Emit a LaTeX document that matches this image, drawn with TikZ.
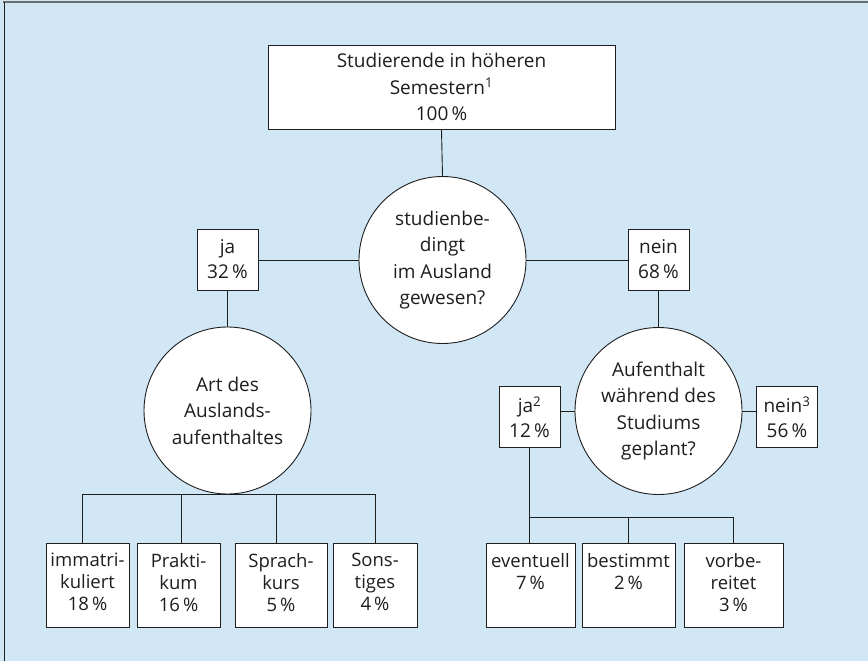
\documentclass[tikz,border=0pt]{standalone}
\usepackage{fontspec}
\setmainfont{Open Sans}
\definecolor{bgblue}{HTML}{D2E7F5}
\definecolor{ink}{HTML}{1E1E1E}
\definecolor{frame}{HTML}{6E6E6E}
\begin{document}
\begin{tikzpicture}[x=1pt,y=-1pt,
  every node/.style={text=ink},
  base/.style={draw=ink, line width=0.9pt, fill=white, align=center, inner sep=2pt,
    font=\fontsize{19}{26.5}\selectfont},
  topbox/.style={base, minimum width=347, minimum height=84},
  smallbox/.style={base, minimum width=61, minimum height=61, font=\fontsize{19}{25}\selectfont},
  question/.style={base, circle, minimum size=167, inner sep=0pt},
  leaf/.style={base, minimum height=84, minimum width=#1, inner sep=0pt,
    font=\fontsize{18.5}{22}\selectfont},
  conn/.style={draw=ink, line width=0.9pt}
]
\useasboundingbox (0,0) rectangle (868,661);
\fill[bgblue] (0,0) rectangle (868,661);
\draw[frame, line width=2pt] (3,2) -- (868,2);
\draw[ink, line width=0.9pt] (4,2) -- (4,661);

% nodes
\node[topbox] (top) at (441.5,87) {Studierende in höheren\\Semestern\textsuperscript{1}\\100\,\%};
\node[question] (c1) at (442.5,260) {studienbe-\\dingt\\im Ausland\\gewesen?};
\node[smallbox] (ja1) at (227.5,259.5) {ja\\32\,\%};
\node[smallbox] (nein1) at (658.5,259.5) {nein\\68\,\%};
\node[question] (c2) at (227.5,410.5) {Art des\\Auslands-\\aufenthaltes};
\node[question] (c3) at (658.5,411) {Aufenthalt\\während des\\Studiums\\geplant?};
\node[smallbox] (ja2) at (529.5,417) {ja\textsuperscript{2}\\12\,\%};
\node[smallbox] (nein3) at (787,417) {nein\textsuperscript{3}\\56\,\%};

\node[leaf=83] (imm) at (87.5,585) {\parbox[c][76pt][t]{82pt}{\vspace*{6pt}\centering immatri-\\kuliert\\18\,\%}};
\node[leaf=83] (prak) at (178.5,585) {\parbox[c][76pt][t]{82pt}{\vspace*{6pt}\centering Prakti-\\kum\\16\,\%}};
\node[leaf=92] (spr) at (281,585) {\parbox[c][76pt][t]{90pt}{\vspace*{6pt}\centering Sprach-\\kurs\\5\,\%}};
\node[leaf=84] (sons) at (375,585) {\parbox[c][76pt][t]{82pt}{\vspace*{6pt}\centering Sons-\\tiges\\4\,\%}};

\node[leaf=89] (event) at (530.5,585) {\parbox[c][76pt][t]{88pt}{\vspace*{6pt}\centering eventuell\\7\,\%}};
\node[leaf=93] (best) at (628.5,585) {\parbox[c][76pt][t]{92pt}{\vspace*{6pt}\centering bestimmt\\2\,\%}};
\node[leaf=99] (vorb) at (733.5,585) {\parbox[c][76pt][t]{97pt}{\vspace*{6pt}\centering vorbe-\\reitet\\3\,\%}};

\coordinate (rbar) at (530,517);

% connectors
\draw[conn] (top.south) -- (c1.north);
\draw[conn] (c1.west) -- (c1.west -| ja1.east);
\draw[conn] (c1.east) -- (c1.east -| nein1.west);
\draw[conn] (ja1.south) -- (c2.north);
\draw[conn] (nein1.south) -- (c3.north);
\draw[conn] (c3.west) -- (c3.west -| ja2.east);
\draw[conn] (c3.east) -- (c3.east -| nein3.west);

\draw[conn] ([xshift=-5.5]imm.north) |- (c2.south) -| (sons.north);
\draw[conn] ([xshift=2.5]prak.north) -- ([xshift=2.5]prak.north |- c2.south);
\draw[conn] ([xshift=-5]spr.north) -- ([xshift=-5]spr.north |- c2.south);

\draw[conn] (ja2.south) -- (ja2.south |- event.north);
\draw[conn] (ja2.south |- rbar) -| (best.north);
\draw[conn] (best.north |- rbar) -| (vorb.north);
\end{tikzpicture}
\end{document}
